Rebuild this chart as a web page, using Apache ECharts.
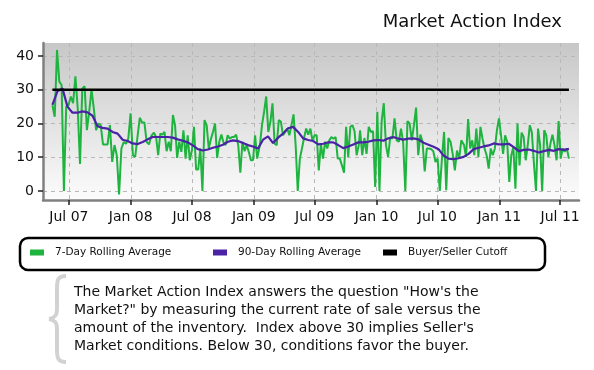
<!DOCTYPE html>
<html>
<head>
<meta charset="utf-8">
<script src="https://cdn.jsdelivr.net/npm/echarts@6/dist/echarts.min.js"></script>
<style>html,body{margin:0;padding:0;background:#fff}#c{width:594px;height:370px}</style>
</head>
<body>
<div id="c"></div>
<script>
// ---- data ----
const titleText = 'Market Action Index';
const seriesNames = ['7-Day Rolling Average', '90-Day Rolling Average', 'Buyer/Seller Cutoff'];
const yTickValues = [0, 10, 20, 30, 40];
const xTickDates = ['2007-07-01','2008-01-01','2008-07-01','2009-01-01','2009-07-01','2010-01-01','2010-07-01','2011-01-01','2011-07-01'];
const axisStart = '2007-04-15', axisEnd = '2011-08-26';
const dataStart = '2007-05-13', dataEnd = '2011-07-27';
const cutoffValue = 30;

// 7-day rolling average, read in five consecutive segments
const green1Range = ['2007-05-13', '2008-03-02'];
const green1 = [25.4, 22, 41.8, 32.4, 31.4, 0, 25, 25.4, 28, 26, 34, 24.5, 8, 30.4, 31, 18, 23.5, 30, 24.5, 18, 20, 19.5, 13.8, 13.8, 13.8, 19.5, 8.6, 13.6, 10.6, -1, 12.6, 14.5, 14, 15.5, 23, 10.6, 10.1, 16, 21.7, 20.3, 20.3, 14.5, 13.8, 16.3];
const green2Range = ['2008-03-10', '2009-01-11'];
const green2 = [17.3, 16, 10.6, 17, 16.7, 17.5, 11.8, 14.6, 11.8, 22.5, 19.5, 9.8, 14.6, 11.6, 18, 9.6, 16.5, 9.1, 12, 19, 6.4, 6.4, 12.6, 0, 21, 19.5, 12.6, 15.3, 17.5, 20, 9.8, 14.6, 16.7, 14.4, 13.6, 16.5, 15.5, 16, 16, 16.7, 13.6, 5.4, 14.6, 11.8, 13.6, 11.6, 9.1, 9.1, 16.5, 9.6];
const green3Range = ['2009-01-19', '2009-11-09'];
const green3 = [13.6, 19.5, 23.5, 28, 17.5, 20.5, 26, 14, 13.6, 21, 20.5, 16.5, 17.5, 18.5, 16.5, 19.5, 22.7, 13.6, 0, 9.6, 12.6, 15.7, 18.5, 16.7, 18.5, 15, 16.5, 16.5, 6.1, 14, 9.6, 14.6, 12.6, 15, 16, 15.5, 16, 9.6, 9.6, 7.6, 5.4, 19, 10.1, 19, 19.5, 17.7, 10.6, 13.6];
const green4Range = ['2009-11-13', '2010-09-10'];
const green4 = [18, 10.6, 15.7, 11, 19, 17.5, 17.7, 1.2, 23.5, 0, 20.7, 26, 13.6, 10.1, 16, 15.5, 21.5, 15, 14.6, 18.5, 14.4, 0, 20.7, 20, 15, 19.5, 24.7, 10.6, 16.7, 14.6, 5.8, 12.6, 12.6, 12.4, 11.8, 8.6, 9.6, 0, 9.6, 17.5, 0.2, 15.7, 14.6, 11, 6.1, 12, 9.6, 15];
const green5Range = ['2010-09-18', '2011-07-27'];
const green5 = [13.6, 10.1, 21.3, 12.6, 15, 10.6, 18.5, 10.1, 19, 15.5, 12.6, 10.6, 6.6, 12.6, 10.6, 12.6, 18, 21.5, 16.5, 11, 16.5, 14.6, 2.7, 10.6, 13, 0.7, 20, 7.6, 17.3, 16, 9.1, 13.6, 19.5, 17.3, 8.1, 0, 18.5, 13.6, 0, 18, 16.5, 10.1, 14, 16.7, 13.6, 9.1, 20.7, 9.6, 12.6, 11.6, 12.6, 9.6];

// 90-day rolling average
const purpleRange = ['2007-05-13', '2011-07-27'];
const purple = [25.5, 29.5, 30.4, 25, 23.2, 23.2, 23.6, 23.3, 22.3, 19.2, 18.7, 18.5, 17.5, 17, 15.2, 14.8, 14.1, 13.9, 14.5, 15.3, 16, 16, 16, 16, 15.8, 15.3, 14.9, 14.4, 13.5, 12.4, 12, 12.3, 12.8, 13.2, 13.7, 14.6, 15, 14.8, 14.2, 13.6, 13.2, 12.6, 15.2, 16.2, 14.2, 15.8, 17, 18.6, 19, 17.5, 15.6, 15.1, 14.8, 13.8, 14, 14.4, 14.4, 13.6, 12.7, 13.2, 13.8, 14.4, 14.4, 14.6, 15, 15.1, 14.9, 15.6, 16, 15.5, 15.2, 15.5, 15.6, 15.3, 14.3, 13.7, 13.1, 12.4, 10.5, 9.6, 9.4, 9.7, 10.1, 11, 12.4, 12.8, 13.2, 13.5, 14.1, 13.8, 13.8, 14, 13, 11.8, 12.2, 12.3, 11.9, 11.4, 11.8, 12.2, 11.9, 12.4, 12.2, 12.5];

const descriptionLines = [
  'The Market Action Index answers the question "How\'s the',
  'Market?" by measuring the current rate of sale versus the',
  'amount of the inventory.  Index above 30 implies Seller\'s',
  'Market conditions. Below 30, conditions favor the buyer.'
];

// ---- helpers ----
function t(s) { const p = s.split('-').map(Number); return Date.UTC(p[0], p[1] - 1, p[2]); }
function spread(values, range) {
  const t0 = t(range[0]), t1 = t(range[1]), n = values.length;
  return values.map((v, i) => [t0 + i * (t1 - t0) / (n - 1), v]);
}
const MONTHS = ['Jan','Feb','Mar','Apr','May','Jun','Jul','Aug','Sep','Oct','Nov','Dec'];
const FONT = 'DejaVu Sans';

const greenData = [].concat(
  spread(green1, green1Range), spread(green2, green2Range), spread(green3, green3Range),
  spread(green4, green4Range), spread(green5, green5Range));
const purpleData = spread(purple, purpleRange);
const cutoffData = [[t(dataStart), cutoffValue], [t(dataEnd), cutoffValue]];

const GREEN = '#1fb33f', PURPLE = '#4a22a6', BLACK = '#000000';

const chart = echarts.init(document.getElementById('c'), null, { renderer: 'canvas' });

function legendFor(name, left) {
  return {
    data: [name], left: left, top: 247, padding: 0, orient: 'horizontal',
    icon: 'rect', itemWidth: 14, itemHeight: 6, selectedMode: false,
    lineStyle: { width: 0, opacity: 0 },
    itemStyle: { borderWidth: 0 },
    textStyle: { fontFamily: FONT, fontSize: 10.5, color: '#111', padding: [0, 0, 0, 6] }
  };
}

const braceStyle = { fill: 'none', stroke: '#d2d2d2', lineWidth: 4 };

chart.setOption({
  animation: false,
  backgroundColor: '#ffffff',
  title: {
    text: titleText, right: 32, top: 13, padding: 0,
    textStyle: { fontFamily: FONT, fontSize: 18, fontWeight: 'normal', color: '#111' }
  },
  legend: [legendFor(seriesNames[0], 30), legendFor(seriesNames[1], 213), legendFor(seriesNames[2], 383)],
  grid: {
    left: 43, right: 15, top: 43, bottom: 170, outerBoundsMode: 'none', containLabel: false,
    show: true, borderWidth: 0,
    backgroundColor: new echarts.graphic.LinearGradient(0, 0, 0, 1, [
      { offset: 0, color: '#c7c7c7' }, { offset: 1, color: '#fcfcfc' }])
  },
  xAxis: {
    type: 'value', min: t(axisStart), max: t(axisEnd),
    axisLine: { show: true, onZero: false, lineStyle: { color: '#808080', width: 2.5 } },
    axisTick: { show: true, inside: false, length: 5, lineStyle: { color: '#222', width: 1.5 },
      customValues: xTickDates.map(t) },
    axisLabel: { show: true, margin: 10, fontFamily: FONT, fontSize: 14, color: '#111',
      customValues: xTickDates.map(t),
      formatter: v => { const d = new Date(v); return MONTHS[d.getUTCMonth()] + ' ' + String(d.getUTCFullYear()).slice(2); } },
    splitLine: { show: true, lineStyle: { color: '#b8b8b8', type: [4, 4], width: 1 } }
  },
  yAxis: {
    type: 'value', min: -2.67, max: 43.85,
    axisLine: { show: true, lineStyle: { color: '#808080', width: 2.5 } },
    axisTick: { show: true, inside: false, length: 5, lineStyle: { color: '#222', width: 1.5 },
      customValues: yTickValues },
    axisLabel: { show: true, margin: 9, fontFamily: FONT, fontSize: 14, color: '#111',
      customValues: yTickValues },
    splitLine: { show: true, lineStyle: { color: '#b8b8b8', type: [4, 4], width: 1 } }
  },
  series: [
    { name: seriesNames[0], type: 'line', data: greenData, color: GREEN, showSymbol: false, symbol: 'none',
      legendIcon: 'rect', lineStyle: { color: GREEN, width: 2 }, z: 2 },
    { name: seriesNames[1], type: 'line', data: purpleData, color: PURPLE, showSymbol: false, symbol: 'none',
      legendIcon: 'rect', lineStyle: { color: PURPLE, width: 2.2 }, z: 3 },
    { name: seriesNames[2], type: 'line', data: cutoffData, color: BLACK, showSymbol: false, symbol: 'none',
      legendIcon: 'rect', lineStyle: { color: BLACK, width: 2.5 }, z: 4 }
  ],
  graphic: [
    { type: 'rect', z: -1,
      shape: { x: 20, y: 238, width: 525, height: 32, r: 8 },
      style: { fill: '#ffffff', stroke: '#000000', lineWidth: 2.5 } },
    { type: 'bezierCurve', shape: { x1: 66, y1: 276, cpx1: 58, cpy1: 276, cpx2: 57, cpy2: 280, x2: 57, y2: 288 }, style: braceStyle },
    { type: 'line', shape: { x1: 57, y1: 288, x2: 57, y2: 310 }, style: braceStyle },
    { type: 'bezierCurve', shape: { x1: 57, y1: 310, cpx1: 57, cpy1: 316, cpx2: 54, cpy2: 318, x2: 49, y2: 319 }, style: braceStyle },
    { type: 'bezierCurve', shape: { x1: 49, y1: 319, cpx1: 54, cpy1: 320, cpx2: 57, cpy2: 322, x2: 57, y2: 328 }, style: braceStyle },
    { type: 'line', shape: { x1: 57, y1: 328, x2: 57, y2: 350 }, style: braceStyle },
    { type: 'bezierCurve', shape: { x1: 57, y1: 350, cpx1: 57, cpy1: 358, cpx2: 58, cpy2: 362, x2: 66, y2: 362 }, style: braceStyle },
    { type: 'text', x: 74, y: 283,
      style: { text: descriptionLines.join('\n'), font: '14px "DejaVu Sans"', lineHeight: 18, fill: '#111' } }
  ]
});
</script>
</body>
</html>
